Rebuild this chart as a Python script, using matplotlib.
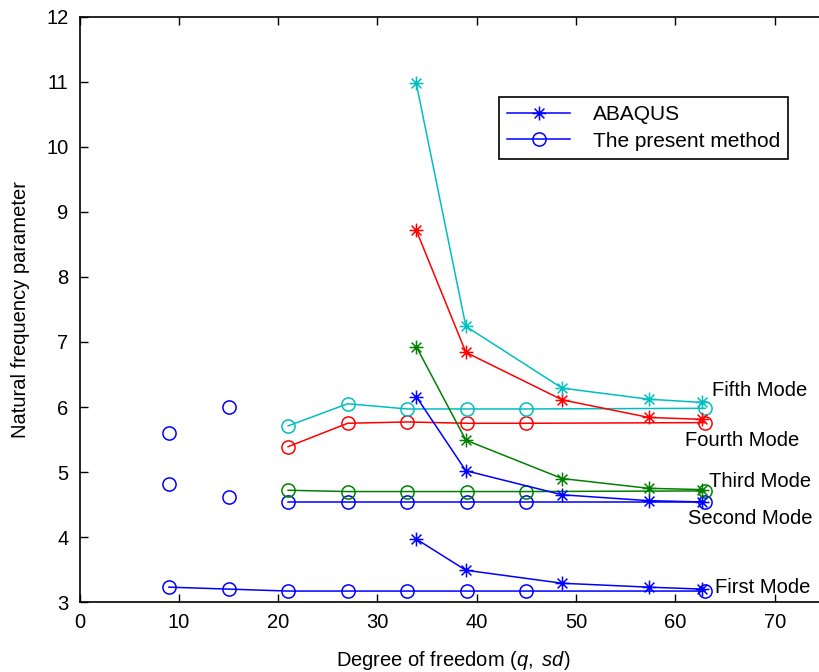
import matplotlib
matplotlib.use("Agg")
import matplotlib.pyplot as plt
from matplotlib.path import Path
from matplotlib.lines import Line2D

plt.rcParams['font.family'] = ['Liberation Sans', 'DejaVu Sans']
plt.rcParams['mathtext.fontset'] = 'custom'
plt.rcParams['mathtext.it'] = 'Liberation Sans:italic'
plt.rcParams['mathtext.rm'] = 'Liberation Sans'

# ABAQUS results (asterisks)
abaqus_x = [33.9, 38.9, 48.6, 57.3, 62.7]
abaqus_first = [3.97, 3.49, 3.29, 3.23, 3.20]
abaqus_second = [6.16, 5.02, 4.65, 4.56, 4.54]
abaqus_third = [6.93, 5.49, 4.90, 4.75, 4.73]
abaqus_fourth = [8.72, 6.84, 6.11, 5.84, 5.81]
abaqus_fifth = [10.98, 7.24, 6.29, 6.12, 6.07]

# present method (circles)
present_x_first = [9, 15, 21, 27, 33, 39, 45, 63]
present_first = [3.23, 3.20, 3.17, 3.17, 3.17, 3.17, 3.17, 3.17]
present_x = [21, 27, 33, 39, 45, 63]
present_second = [4.54, 4.54, 4.54, 4.54, 4.54, 4.54]
present_third = [4.72, 4.70, 4.70, 4.70, 4.70, 4.71]
present_fourth = [5.39, 5.75, 5.77, 5.75, 5.75, 5.76]
present_fifth = [5.71, 6.05, 5.97, 5.97, 5.97, 5.98]

# loose points of the present method at low dof
extra_x = [9, 9, 15, 15]
extra_y = [4.82, 5.60, 4.61, 6.00]

mode_names = ['First Mode', 'Second Mode', 'Third Mode', 'Fourth Mode', 'Fifth Mode']
label_x = [64.0, 61.3, 63.4, 61.0, 63.7]
label_y = [3.23, 4.29, 4.85, 5.49, 6.25]

blue = (0, 0, 1)
green = (0, 0.5, 0)
red = (1, 0, 0)
cyan = (0, 0.75, 0.75)

# MATLAB style asterisk: plus + cross
d = 0.7071
star = Path([(-1, 0), (1, 0), (0, -1), (0, 1), (-d, -d), (d, d), (-d, d), (d, -d)],
            [Path.MOVETO, Path.LINETO] * 4)

fig = plt.figure(figsize=(8.2, 6.72), dpi=100)
ax = fig.add_axes([0.097, 0.104, 0.912, 0.871])

star_kw = dict(marker=star, markersize=10, markerfacecolor='none', lw=1.1, mew=1.1)
circ_kw = dict(marker='o', markersize=9.5, markerfacecolor='none', lw=1.1, mew=1.1)

ax.plot(present_x_first, present_first, color=blue, **circ_kw)
ax.plot(extra_x, extra_y, color=blue, ls='none', **circ_kw)
ax.plot(present_x, present_second, color=blue, **circ_kw)
ax.plot(present_x, present_third, color=green, **circ_kw)
ax.plot(present_x, present_fourth, color=red, **circ_kw)
ax.plot(present_x, present_fifth, color=cyan, **circ_kw)

ax.plot(abaqus_x, abaqus_first, color=blue, **star_kw)
ax.plot(abaqus_x, abaqus_second, color=blue, **star_kw)
ax.plot(abaqus_x, abaqus_third, color=green, **star_kw)
ax.plot(abaqus_x, abaqus_fourth, color=red, **star_kw)
ax.plot(abaqus_x, abaqus_fifth, color=cyan, **star_kw)

for name, lx, ly in zip(mode_names, label_x, label_y):
    ax.text(lx, ly, name, fontsize=14.5, va='center', ha='left')

ax.set_xlim(0, 75.3)
ax.set_ylim(3, 12)
ax.set_xticks(range(0, 80, 10))
ax.set_yticks(range(3, 13))
ax.tick_params(direction='in', top=True, right=True, length=6, width=1,
               labelsize=14.5, pad=8)
for s in ax.spines.values():
    s.set_linewidth(1.2)

ax.set_xlabel(r'Degree of freedom $\mathit{(q,}$ $\mathit{sd)}$', fontsize=14.5, labelpad=12)
ax.set_ylabel('Natural frequency parameter', fontsize=14.5, labelpad=12)

handles = [Line2D([], [], color=blue, **star_kw),
           Line2D([], [], color=blue, **circ_kw)]
leg = ax.legend(handles, ['ABAQUS', 'The present method'], loc='upper left',
                bbox_to_anchor=(0.561, 0.863), fontsize=15, fancybox=False,
                edgecolor='black', framealpha=1, handlelength=3.0,
                handletextpad=1.1, borderpad=0.4, borderaxespad=0,
                labelspacing=0.35)
leg.get_frame().set_linewidth(1.2)

fig.savefig('out.png', dpi=100)
